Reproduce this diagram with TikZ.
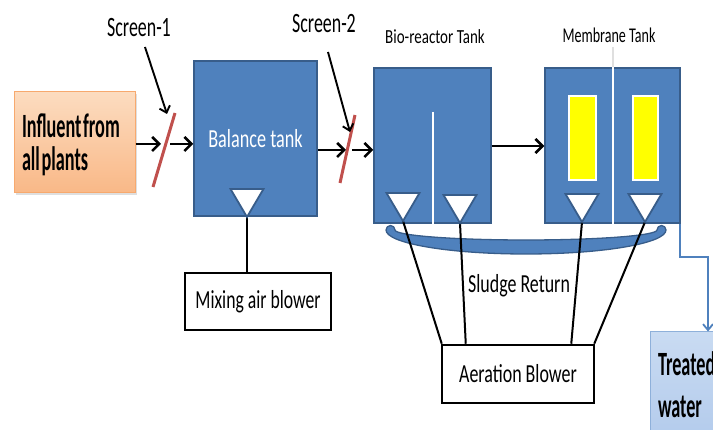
\documentclass[tikz,border=0pt]{standalone}
\usepackage{fontspec}
\setmainfont{Carlito}
\usepackage{graphicx}
\usetikzlibrary{arrows.meta,calc,shadows}
\definecolor{tankblue}{HTML}{4F81BD}
\definecolor{tankedge}{HTML}{385D8A}
\definecolor{screenred}{HTML}{C0504D}
\definecolor{orgtop}{HTML}{FCDCC0}
\definecolor{orgbot}{HTML}{F9B887}
\definecolor{orgedge}{HTML}{F7A96E}
\definecolor{bluetop}{HTML}{C9DBF2}
\definecolor{bluebot}{HTML}{B3CBEC}
\definecolor{blueedge}{HTML}{8EB0DA}
\definecolor{membyellow}{HTML}{FFFF00}
\newcommand\sq[3]{\scalebox{#1}[1]{\fontsize{#2}{#2}\selectfont #3}}
\newcommand\twol[5]{\raisebox{#5}[\height][\depth]{\scalebox{#1}[1]{\fontsize{#2}{#3}\selectfont\bfseries\begin{tabular}{@{}l@{}}#4\end{tabular}}}}
\begin{document}
\begin{tikzpicture}[x=1pt,y=-1pt,
  tank/.style={draw=tankedge,fill=tankblue,line width=1.5pt,inner sep=0pt,rectangle},
  wbox/.style={draw=black,fill=white,line width=2.5pt,inner sep=0pt,rectangle},
  flow/.style={line width=2.6pt,-{Straight Barb[length=7pt,width=14pt]}},
  pointer/.style={line width=1.9pt,-{Straight Barb[length=6pt,width=11pt]}},
  airline/.style={line width=2pt},
  diff/.style={draw=tankedge,fill=white,line width=1.8pt,line join=miter},
  lab/.style={inner sep=0pt,anchor=base},
  screenbar/.style={draw=screenred,line width=3pt},
  memb/.style={draw=white,fill=membyellow,line width=1.6pt},
  outflow/.style={draw=tankblue,line width=1.8pt,-{Straight Barb[length=6pt,width=10pt]}},
]
\useasboundingbox (0,0) rectangle (713,430);
\clip (0,0) rectangle (713,430);

% influent
\node[draw=orgedge,line width=1pt,top color=orgtop,bottom color=orgbot,
      minimum width=121pt,minimum height=101pt,text width=105pt,align=left,inner xsep=8pt,
      drop shadow={opacity=0.25,shadow xshift=2pt,shadow yshift=-2pt}]
  (infl) at (74.5,142.5) {\twol{0.535}{34}{31}{Influent from\\all plants}{-4pt}};

% tanks
\node[tank,minimum width=123pt,minimum height=155pt] (bal) at (255.5,138.5)
  {\color{white}\sq{0.70}{26}{Balance tank}};
\node[tank,minimum width=117pt,minimum height=155pt] (bio) at (432.5,145.5) {};
\node[tank,minimum width=135pt,minimum height=155pt] (mem) at (612.5,145.5) {};

% dividers
\draw[white,line width=2pt] (433,112) -- (433,0|-bio.south);
\draw[gray!25,line width=2pt] (613,47) -- (613,0|-mem.north);
\draw[white,line width=2pt] (613,0|-mem.north) -- (613,0|-mem.south);

% membranes
\draw[memb] (569,96) rectangle (596,180);
\draw[memb] (633,96) rectangle (658,180);

% labels
\node[lab] (sc1lab) at (139,37) {\sq{0.64}{28}{Screen-1}};
\node[lab] (sc2lab) at (324,33) {\sq{0.64}{28}{Screen-2}};
\node[lab] (biolab) at (435,44) {\sq{0.75}{20}{Bio-reactor Tank}};
\node[lab] (memlab) at (609,43) {\sq{0.67}{21}{Membrane Tank}};
\node[lab] (sludge) at (519,293) {\sq{0.69}{26}{Sludge Return}};

% blowers
\node[wbox,minimum width=146pt,minimum height=57pt] (mix) at (258,301.5)
  {\sq{0.68}{26}{Mixing air blower}};
\node[wbox,minimum width=152pt,minimum height=58pt] (aer) at (518,374)
  {\sq{0.69}{26}{Aeration Blower}};

% treated water
\node[draw=blueedge,line width=1pt,top color=bluetop,bottom color=bluebot,
      minimum width=90pt,minimum height=108pt,text width=74pt,align=left,inner xsep=8pt]
  (tw) at (695,386) {\twol{0.535}{34}{42}{Treated\\water}{-2pt}};

% sludge return band
\draw[fill=tankblue,draw=tankedge,line width=1.3pt,line join=round]
  (386,230) arc[start angle=180,end angle=0,x radius=140,y radius=24]
  arc[start angle=0,end angle=-180,radius=4.5]
  arc[start angle=0,end angle=180,x radius=131,y radius=10]
  arc[start angle=0,end angle=-180,radius=4.5] -- cycle;

% screens
\coordinate (s1t) at (175,113);
\coordinate (s1b) at (153,187);
\coordinate (s2t) at (355,115);
\coordinate (s2b) at (340,183);
\draw[screenbar] (s1b) -- (s1t);
\draw[screenbar] (s2b) -- (s2t);

% flow arrows
\coordinate (f1a) at (161,144);
\coordinate (f1b) at (170,144);
\draw[flow] (infl.east|-f1a) -- (f1a);
\draw[flow] (f1b) -- (bal.west|-f1b);
\coordinate (f2a) at (346,150);
\coordinate (f2b) at (352,150);
\draw[flow] (bal.east|-f2a) -- (f2a);
\draw[flow] (f2b) -- (bio.west|-f2b);
\coordinate (f3) at (0,146);
\draw[flow] (bio.east|-f3) -- (mem.west|-f3);

% screen pointers
\coordinate (p1) at (145,47);
\coordinate (p1e) at (167,114);
\coordinate (p2) at (328,52);
\coordinate (p2e) at (350,132);
\draw[pointer] (p1) -- (p1e);
\draw[pointer] (p2) -- (p2e);

% diffuser coordinates (apexes)
\coordinate (d0) at (247,217);
\coordinate (d1) at (403,221);
\coordinate (d2) at (460,223);
\coordinate (d3) at (582,222);
\coordinate (d4) at (645,222);

% air lines
\draw[airline] (d0) -- (d0|-mix.north);
\draw[airline] (d1) -- ($(aer.north west)+(1,0)$);
\draw[airline] (d2) -- ($(aer.north west)+(25,0)$);
\draw[airline] (d3) -- ($(aer.north east)+(-24,0)$);
\draw[airline] (d4) -- ($(aer.north east)+(-1,0)$);

% diffusers
\foreach \d in {d0,d1,d2,d3,d4}
  \draw[diff] (\d) -- ++(-16.5,-28) -- ++(33,0) -- cycle;

% treated water outflow
\coordinate (bend) at (708,257);
\draw[outflow] ($(mem.south east)+(-1,0)$) |- (bend) -- (bend|-tw.north);
\end{tikzpicture}
\end{document}
